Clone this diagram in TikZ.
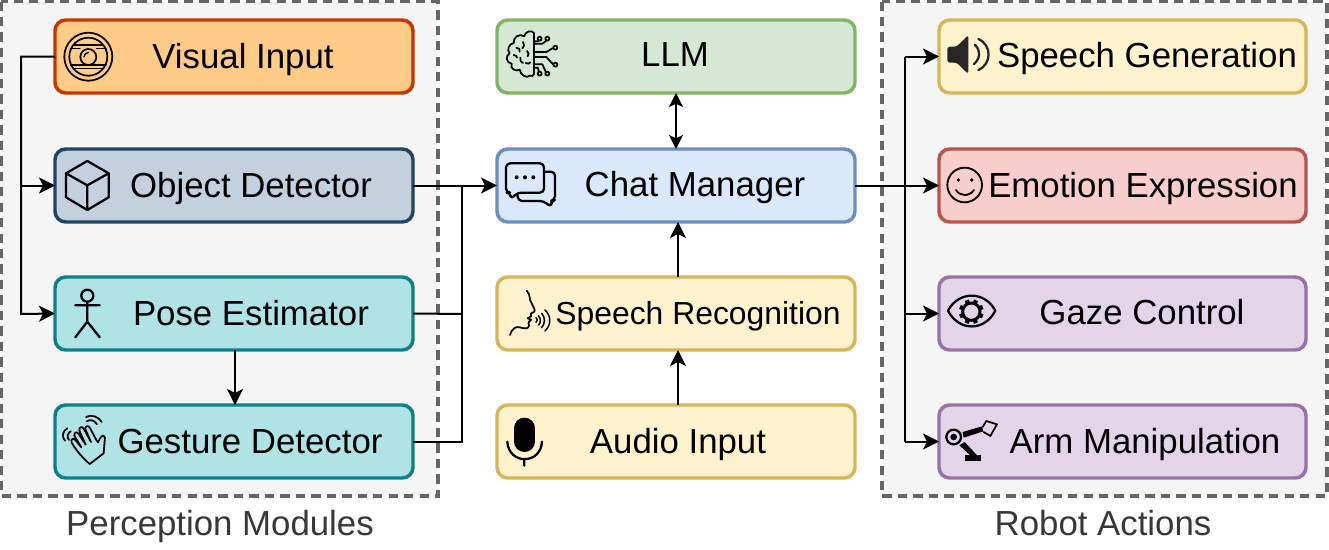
\documentclass[tikz,border=0pt]{standalone}
\usepackage{fontspec}
\setmainfont{Liberation Sans}
\usetikzlibrary{arrows.meta}
\definecolor{grpfill}{HTML}{F5F5F5}
\definecolor{grpline}{HTML}{666666}
\definecolor{orF}{HTML}{FFCC88}\definecolor{orD}{HTML}{C73500}
\definecolor{blF}{HTML}{C3D1DF}\definecolor{blD}{HTML}{23445D}
\definecolor{teF}{HTML}{B0E3E6}\definecolor{teD}{HTML}{0E8088}
\definecolor{grF}{HTML}{D5E8D4}\definecolor{grD}{HTML}{82B366}
\definecolor{chF}{HTML}{DAE8FC}\definecolor{chD}{HTML}{6C8EBF}
\definecolor{yeF}{HTML}{FFF2CC}\definecolor{yeD}{HTML}{D6B656}
\definecolor{reF}{HTML}{F8CECC}\definecolor{reD}{HTML}{B85450}
\definecolor{puF}{HTML}{E1D5E7}\definecolor{puD}{HTML}{9673A6}
\tikzset{
  group/.style={draw=grpline,fill=grpfill,line width=2.7pt,dash pattern=on 7pt off 4.6pt},
  boxL/.style={draw,rounded corners=8pt,line width=2.6pt,minimum width=268.5pt,minimum height=54.75pt,outer sep=0pt,inner sep=0pt},
  boxR/.style={boxL,minimum width=275.25pt},
  lab/.style={anchor=base,inner sep=0pt,font=\fontsize{26.1}{30}\selectfont},
  grouplab/.style={lab,text=black!78},
  conn/.style={line width=1.5pt,draw=black},
  arr/.style={conn,-{Stealth[length=12pt,width=12pt,inset=3pt]}},
  darr/.style={conn,{Stealth[length=10.5pt,width=10.5pt,inset=2.5pt]}-{Stealth[length=10.5pt,width=10.5pt,inset=2.5pt]}},
  zoomed/.style={x=0.25pt,y=-0.25pt},
  ic/.style={line width=1.3pt,draw=black,line join=round,line cap=round},
  icb/.style={ic,line width=1.7pt},
}
\begin{document}
\begin{tikzpicture}[x=0.75pt,y=-0.75pt]
\useasboundingbox (0,0) rectangle (1329,550);
% groups
\path[group] (1.5,1.5) rectangle (438,496);
\path[group] (882,1.5) rectangle (1327,496);
% boxes
\node[boxL,draw=orD,fill=orF] (visual) at (234,56.5) {};
\node[boxL,draw=blD,fill=blF] (object) at (234,185.5) {};
\node[boxL,draw=teD,fill=teF] (pose) at (234,313.5) {};
\node[boxL,draw=teD,fill=teF] (gesture) at (234,441.5) {};
\node[boxL,draw=grD,fill=grF] (llm) at (676,56.5) {};
\node[boxL,draw=chD,fill=chF] (chat) at (676,185.5) {};
\node[boxL,draw=yeD,fill=yeF] (recog) at (676,313.5) {};
\node[boxL,draw=yeD,fill=yeF] (audio) at (676,441.5) {};
\node[boxR,draw=yeD,fill=yeF] (gen) at (1122.5,56.5) {};
\node[boxR,draw=reD,fill=reF] (emo) at (1122.5,185.5) {};
\node[boxR,draw=puD,fill=puF] (gaze) at (1122.5,313.5) {};
\node[boxR,draw=puD,fill=puF] (arm) at (1122.5,441.5) {};
% labels
\node[lab] (tvisual) at (243,68) {Visual Input};
\node[lab] (tobject) at (251,197.5) {Object Detector};
\node[lab] (tpose) at (251,325) {Pose Estimator};
\node[lab] (tgesture) at (250,453) {Gesture Detector};
\node[lab] (tllm) at (675,66) {LLM};
\node[lab] (tchat) at (695,196) {Chat Manager};
\node[lab,font=\fontsize{23.9}{28}\selectfont] (trecog) at (698,324) {Speech Recognition};
\node[lab] (taudio) at (678,453) {Audio Input};
\node[lab] (tgen) at (1147,67) {Speech Generation};
\node[lab] (temo) at (1143,197.5) {Emotion Expression};
\node[lab] (tgaze) at (1142,324.5) {Gaze Control};
\node[lab] (tarm) at (1145,453) {Arm Manipulation};
\node[grouplab] (tperc) at (220,535) {Perception Modules};
\node[grouplab] (trobot) at (1103,535) {Robot Actions};
% connectors
\coordinate (lbus) at (21,314);
\coordinate (mbus) at (462,314);
\coordinate (rbus) at (905,186);
\coordinate (gx) at (235,400);
\coordinate (mx) at (678,300);
\draw[arr] (visual.west) -| (lbus) -- (pose.west);
\draw[arr] (lbus |- object.west) -- (object.west);
\draw[arr] (pose.south -| gx) -- (gesture.north -| gx);
\draw[arr] (object.east) -- (chat.west);
\draw[conn] (pose.east) -- (mbus);
\draw[conn] (gesture.east) -| (mbus) -- (mbus |- chat.west);
\draw[darr] (llm.south) -- (chat.north);
\draw[arr] (recog.north -| mx) -- (chat.south -| mx);
\draw[arr] (audio.north -| mx) -- (recog.south -| mx);
\draw[arr] (chat.east) -- (emo.west);
\draw[conn] (rbus |- gen.west) -- (rbus |- arm.west);
\draw[arr] (rbus |- gen.west) -- (gen.west);
\draw[arr] (rbus |- gaze.west) -- (gaze.west);
\draw[arr] (rbus |- arm.west) -- (arm.west);
% --- icon: camera
\draw[ic] (88.3,56.7) circle (24) (88.3,56.7) circle (19);
\draw[ic,line width=1pt] (74,45)--(102.5,45) (70.5,48.5)--(80,48.5) (96.5,48.5)--(106,48.5) (70.5,65)--(106,65) (74,68.5)--(102.5,68.5);
\draw[ic] (88.3,57) circle (8);
\draw[ic,line width=1pt] (84,57) arc (180:270:4.5);
% --- icon: cube
\draw[icb] (87.3,161)--(108.7,173.3)--(108.7,197.3)--(87.3,210)--(66,197.3)--(66,173.3)--cycle
 (66,173.3)--(87.3,185.3)--(108.7,173.3) (87.3,185.3)--(87.3,210);
% --- icon: stick figure
\draw[icb] (87.3,295.7) circle (6) (87.3,301.7)--(87.3,321.7) (75.3,305.3)--(99.7,305.3) (75.3,337.3)--(87.3,321.7)--(99.7,337.3);
% --- icon: hand
\begin{scope}[shift={(58,410)},zoomed]
\draw[ic] (95,162) .. controls (75,145) and (55,122) .. (41,98) .. controls (37,88) and (46,82) .. (52,90) -- (70,112)
  (70,112) -- (49,77) .. controls (47,66) and (57,64) .. (62,72) -- (83,104)
  (83,104) -- (64,62) .. controls (62,51) and (72,48) .. (77,56) -- (99,96)
  (99,96) -- (82,58) .. controls (80,47) and (92,45) .. (96,54) -- (115,90) -- (120,97) .. controls (125,88) and (128,78) .. (136,77) .. controls (143,78) and (141,85) .. (140,92) -- (137,130) -- (95,162);
\draw[ic] (21,92) .. controls (10,80) and (14,62) .. (28,55) (33,90) .. controls (26,82) and (28,70) .. (38,64);
\draw[ic] (84,21) .. controls (100,12) and (122,20) .. (131,36) (86,34) .. controls (98,26) and (110,32) .. (117,43);
\end{scope}
% --- icon: brain
\begin{scope}[shift={(503,27)},zoomed]
\draw[ic] (93,18) .. controls (85,8) and (68,12) .. (63,28) .. controls (50,18) and (30,30) .. (32,48) .. controls (18,50) and (10,70) .. (20,78) .. controls (6,88) and (10,108) .. (26,110) .. controls (20,125) and (38,135) .. (50,128) .. controls (52,145) and (72,155) .. (80,146) .. controls (86,150) and (93,146) .. (93,140) -- (93,18);
\draw[ic] (60,45) .. controls (66,52) and (64,60) .. (58,64) (40,62) .. controls (48,62) and (52,68) .. (50,74) (72,72) .. controls (78,76) and (78,84) .. (74,88) (52,92) .. controls (50,100) and (54,106) .. (60,108) (32,84) .. controls (38,84) and (42,88) .. (42,92) (68,108) .. controls (74,112) and (80,110) .. (82,106);
\draw[ic] (93,43)--(104,43)--(108,40) (93,50)--(118,50)--(130,41) (93,75)--(130,75)--(150,63) (93,90)--(130,90)--(150,112) (93,112)--(118,112)--(128,134) (93,122)--(104,122)--(108,134);
\draw[ic] (110,35) circle (6) (133,35) circle (6) (157,62) circle (6) (157,113) circle (6) (110,140) circle (6) (133,140) circle (6);
\end{scope}
% --- icon: chat
\begin{scope}[shift={(400,0)},zoomed]
\draw[icb,rounded corners=3pt] (432,515)--(465,515)--(465,600)--(453,603)--(453,622)--(432,603)--(354,603)--(352,580);
\draw[icb,fill=chF,rounded corners=3pt] (318,490)--(432,490)--(432,578)--(352,578)--(332,598)--(332,578)--(318,578)--cycle;
\fill (350,532) circle (6) (375,532) circle (6) (400,532) circle (6);
\end{scope}
% --- icon: speaking head
\begin{scope}[shift={(505,285)},zoomed]
\draw[ic] (65,17) .. controls (78,30) and (70,40) .. (80,55) .. controls (84,65) and (92,75) .. (88,80) -- (77,86) .. controls (82,90) and (80,94) .. (68,100) -- (79,104) .. controls (74,108) and (68,110) .. (72,122) .. controls (70,134) and (56,130) .. (44,127) .. controls (34,124) and (22,128) .. (15,150);
\draw[ic,line width=1.1pt] (93,98) .. controls (98,102) and (98,108) .. (93,112)
  (100,92) .. controls (108,100) and (108,112) .. (101,120)
  (110,85) .. controls (121,97) and (121,115) .. (110,128)
  (120,75) .. controls (139,92) and (139,120) .. (120,138);
\end{scope}
% --- icon: microphone
\begin{scope}[shift={(400,260)},zoomed]
\draw[line width=15.75pt,line cap=round] (373.5,504.5)--(373.5,544.5);
\draw[icb] (322,545) .. controls (326,615) and (422,615) .. (426,545) (373,600)--(373,617);
\end{scope}
% --- icon: speaker
\begin{scope}[shift={(850,0)},zoomed]
\fill[black!85,rounded corners=2pt] (292,140)--(320,140)--(355,105)--(355,222)--(320,188)--(292,188)--cycle;
\draw[icb,black!85] (375,135) .. controls (392,150) and (392,175) .. (372,192) (385,117) .. controls (426,135) and (426,192) .. (385,210);
\end{scope}
% --- icon: smiley
\begin{scope}[shift={(850,0)},zoomed]
\draw[icb,line width=1.4pt] (344,555) circle (52);
\fill (325,540) circle (5.5) (365,540) circle (5.5);
\draw[icb,line width=1.4pt] (318,570) .. controls (330,590) and (358,590) .. (372,570);
\end{scope}
% --- icon: eye + gear
\begin{scope}[shift={(942,285)},zoomed]
\draw[icb] (18,77) .. controls (50,17) and (128,17) .. (160,77) .. controls (128,140) and (50,140) .. (18,77) -- cycle;
\draw[line width=2.2pt] (88,80) circle (26);
\foreach \a in {22.5,67.5,...,337.5} {\draw[line width=3.2pt] (88,80) ++(\a:26) -- ++(\a:11);}
\end{scope}
% --- icon: robot arm
\begin{scope}[shift={(942,412)},zoomed]
\draw[icb] (35,75) circle (22);
\fill (35,75) circle (10);
\fill (62,60)--(120,43)--(124,58)--(65,77)--cycle;
\draw[ic] (122,45)--(133,27)--(165,37)--(145,72)--(125,60);
\fill (52,100)--(68,90)--(105,130)--(85,130)--cycle;
\fill (70,130) rectangle (118,148);
\end{scope}
\end{tikzpicture}
\end{document}
